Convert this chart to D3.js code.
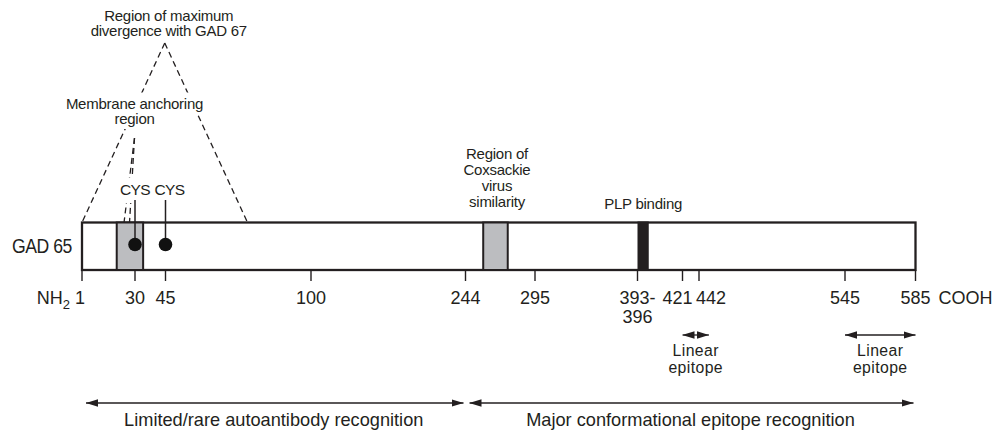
<!DOCTYPE html>
<meta charset="utf-8">
<style>
body { margin: 0; background: #fff; }
svg { display: block; font-family: "Liberation Sans", Arial, Helvetica, sans-serif; }
text { fill: #231f20; }
.note { font-size: 15px; letter-spacing: -0.25px; }
.tick-label { font-size: 18px; }
.epi-label { font-size: 15.8px; letter-spacing: 0.4px; }
.span-label { font-size: 18.2px; }
.dash { fill: none; stroke: #231f20; stroke-width: 1.3px; stroke-dasharray: 6,4; }
.bar { fill: #fff; stroke: #231f20; stroke-width: 2.3px; }
.region { fill: #bcbdc0; stroke: #231f20; stroke-width: 2px; }
.plp { fill: #231f20; }
.tick { stroke: #231f20; stroke-width: 1.4px; }
.arrow { fill: none; stroke: #231f20; stroke-width: 1.3px; }
</style>
<body>
<script src="https://d3js.org/d3.v7.min.js"></script>
<script>

// residue positions along GAD65
var tickValues = [1, 30, 45, 100, 244, 295, 393, 421, 442, 545, 585];
var tickLabels = ["1", "30", "45", "100", "244", "295", "393-", "421", "442", "545", "585"];

var divergenceRegion = [1, 76];
var membraneRegion = [24, 27];
var cysSites = [30, 45];
var cysLabels = ["CYS", "CYS"];
var shadedRegions = [[20, 34], [257, 275]];
var plpRegion = [393, 400];
var linearEpitopes = [[421, 449], [545, 585]];
var recognitionSpans = [[1, 244], [244, 585]];

var divergenceLabel = ["Region of maximum", "divergence with GAD 67"];
var membraneLabel = ["Membrane anchoring", "region"];
var coxsackieLabel = ["Region of", "Coxsackie", "virus", "similarity"];
var plpLabel = "PLP binding";
var epitopeLabel = ["Linear", "epitope"];
var recognitionLabels = ["Limited/rare autoantibody recognition", "Major conformational epitope recognition"];

var width = 997, height = 432;

// schematic (not proportional) residue axis
var x = d3.scaleLinear()
    .domain(tickValues)
    .range([82, 135, 165.5, 311, 465.5, 535, 637.5, 682.5, 699, 845, 915.5]);

var barTop = 222.5, barBottom = 270;

var svg = d3.select("body").append("svg")
    .attr("width", width)
    .attr("height", height);

var defs = svg.append("defs");
defs.append("marker")
    .attr("id", "head")
    .attr("viewBox", "0 0 10 10")
    .attr("refX", 10).attr("refY", 5)
    .attr("markerWidth", 12).attr("markerHeight", 7.5)
    .attr("markerUnits", "userSpaceOnUse")
    .attr("preserveAspectRatio", "none")
    .attr("orient", "auto-start-reverse")
  .append("path")
    .attr("d", "M0,0L10,5L0,10Z")
    .attr("fill", "#231f20");

function lines(g, rows, cx, y0, lh, cls) {
  return g.selectAll(null)
    .data(rows)
    .enter().append("text")
      .attr("class", cls)
      .attr("x", cx)
      .attr("y", function(d, i) { return y0 + i * lh; })
      .attr("text-anchor", "middle")
      .text(function(d) { return d; });
}

// white patch behind each text of a group, so dashed lines break around it
function patch(g, sel, padX, padTop, padBottom) {
  sel.each(function() {
    var b = this.getBBox();
    g.insert("rect", "text")
        .attr("x", b.x - padX).attr("y", b.y - padTop)
        .attr("width", b.width + 2 * padX)
        .attr("height", b.height + padTop + padBottom)
        .attr("fill", "#fff");
  });
}

// big dashed triangle: region of maximum divergence
var bigApex = [(x(divergenceRegion[0]) + x(divergenceRegion[1])) / 2, 43];
svg.selectAll(".big-leg")
    .data(divergenceRegion)
    .enter().append("line")
      .attr("class", "dash")
      .attr("x1", bigApex[0]).attr("y1", bigApex[1])
      .attr("x2", function(d) { return x(d); })
      .attr("y2", barTop);
lines(svg.append("g"), divergenceLabel, bigApex[0] + 4, 20.5, 15.5, "note");

// small dashed triangle: membrane anchoring region
var memApex = [134.5, 138];
svg.selectAll(".mem-leg")
    .data(membraneRegion)
    .enter().append("line")
      .attr("class", "dash")
      .attr("x1", memApex[0]).attr("y1", memApex[1])
      .attr("x2", function(d) { return x(d); })
      .attr("y2", barTop);

var memG = svg.append("g");
patch(memG, lines(memG, membraneLabel, memApex[0], 108.5, 15.5, "note"), 3, 2, 2);

// cysteine labels, also on a white patch
var cysG = svg.append("g");
var cysText = cysG.selectAll(null)
    .data(cysSites)
    .enter().append("text")
      .attr("x", function(d, i) { return x(d) + (i ? 4 : 0); })
      .attr("y", 195)
      .attr("text-anchor", "middle")
      .style("font-size", "15.5px")
      .style("letter-spacing", "-0.6px")
      .text(function(d, i) { return cysLabels[i]; });
patch(cysG, cysText, 1, 3, 5);

// bar
svg.append("rect")
    .attr("class", "bar")
    .attr("x", x(1)).attr("y", barTop)
    .attr("width", x(585) - x(1))
    .attr("height", barBottom - barTop);

svg.selectAll(".region")
    .data(shadedRegions)
    .enter().append("rect")
      .attr("class", "region")
      .attr("x", function(d) { return x(d[0]); })
      .attr("y", barTop)
      .attr("width", function(d) { return x(d[1]) - x(d[0]); })
      .attr("height", barBottom - barTop);

svg.append("rect")
    .attr("class", "plp")
    .attr("x", x(plpRegion[0])).attr("y", barTop - 1)
    .attr("width", x(plpRegion[1]) - x(plpRegion[0]))
    .attr("height", barBottom - barTop + 2);

lines(svg.append("g"), coxsackieLabel,
      (x(shadedRegions[1][0]) + x(shadedRegions[1][1])) / 2 + 1.5, 158.5, 16.3, "note");
lines(svg.append("g"), [plpLabel],
      (x(plpRegion[0]) + x(plpRegion[1])) / 2, 208.5, 0, "note");

// cysteine lollipops
var dotY = 244.5;
svg.selectAll(".cys-stem")
    .data(cysSites)
    .enter().append("line")
      .attr("x1", function(d) { return x(d); })
      .attr("x2", function(d) { return x(d); })
      .attr("y1", 200).attr("y2", dotY)
      .attr("stroke", "#231f20").attr("stroke-width", 1.5);
svg.selectAll(".cys-dot")
    .data(cysSites)
    .enter().append("circle")
      .attr("cx", function(d) { return x(d); })
      .attr("cy", dotY)
      .attr("r", 6.8)
      .attr("fill", "#111");

// ticks and their labels
var labelShift = {1: -2, 421: -5, 442: 12};
svg.selectAll(".tick")
    .data(tickValues)
    .enter().append("line")
      .attr("class", "tick")
      .attr("x1", function(d) { return x(d); })
      .attr("x2", function(d) { return x(d); })
      .attr("y1", barBottom).attr("y2", barBottom + 11);
svg.selectAll(".tick-label")
    .data(tickValues)
    .enter().append("text")
      .attr("class", "tick-label")
      .attr("x", function(d) { return x(d) + (labelShift[d] || 0); })
      .attr("y", 304)
      .attr("text-anchor", "middle")
      .text(function(d, i) { return tickLabels[i]; });
svg.append("text")
    .attr("class", "tick-label")
    .attr("x", x(393)).attr("y", 323)
    .attr("text-anchor", "middle")
    .text("396");

var nh = svg.append("text")
    .attr("class", "tick-label")
    .attr("x", x(1) - 12).attr("y", 304)
    .attr("text-anchor", "end");
nh.append("tspan").text("NH");
nh.append("tspan").attr("dy", 5).style("font-size", "13px").text("2");

svg.append("text")
    .attr("class", "tick-label")
    .attr("x", x(585) + 23).attr("y", 304)
    .text("COOH");

svg.append("text")
    .attr("transform", "translate(72,253) scale(0.86,1)")
    .attr("text-anchor", "end")
    .style("font-size", "20.5px")
    .style("letter-spacing", "-0.5px")
    .text("GAD 65");

// linear epitopes
var epiY = 335;
linearEpitopes.forEach(function(d) {
  svg.append("line")
      .attr("class", "arrow")
      .attr("x1", x(d[0])).attr("x2", x(d[1]))
      .attr("y1", epiY).attr("y2", epiY)
      .attr("marker-start", "url(#head)")
      .attr("marker-end", "url(#head)");
  lines(svg.append("g"), epitopeLabel, (x(d[0]) + x(d[1])) / 2, 356, 16.5, "epi-label");
});

// recognition spans at the bottom
var spanY = 403;
recognitionSpans.forEach(function(d, i) {
  svg.append("line")
      .attr("class", "arrow")
      .attr("x1", x(d[0]) + 4).attr("x2", x(d[1]) - 2)
      .attr("y1", spanY).attr("y2", spanY)
      .attr("marker-start", "url(#head)")
      .attr("marker-end", "url(#head)");
  lines(svg.append("g"), [recognitionLabels[i]], (x(d[0]) + x(d[1])) / 2, 425.5, 0, "span-label");
});

</script>
</body>
